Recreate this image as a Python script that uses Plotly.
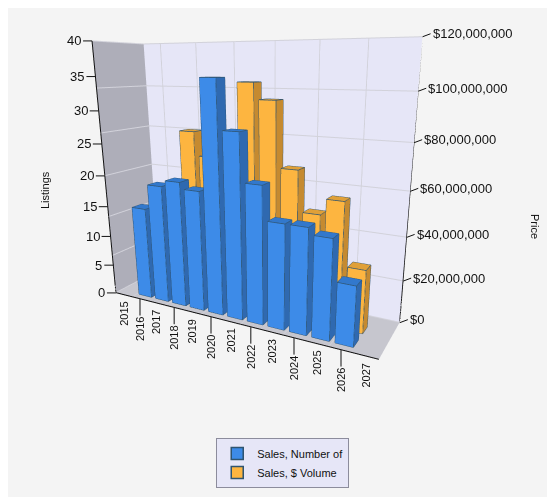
import plotly.graph_objects as go

# categories and values
years = ["2015", "2016", "2017", "2018", "2019", "2020", "2021",
         "2022", "2023", "2024", "2025", "2026", "2027"]
listings = [None, 15, 19, 20, 19, 35, 28, 21, 16, 16, 15, 9, None]
volume = [None, 40e6, 48e6, 81e6, 70e6, 81e6, 103e6, 96e6, 68e6, 50e6, 57e6, 29e6, None]

listing_ticks = [0, 5, 10, 15, 20, 25, 30, 35, 40]
price_ticks = [0, 20e6, 40e6, 60e6, 80e6, 100e6, 120e6]
price_labels = ["$0", "$20,000,000", "$40,000,000", "$60,000,000",
                "$80,000,000", "$100,000,000", "$120,000,000"]

ZMAX = 40
PRICE_SCALE = ZMAX / 120e6   # price axis shares the height of the listings axis
XMIN, XMAX = -0.5, len(years) - 0.5
YMAX = 3.0
FONT = "Liberation Sans"


def box_series(vals, y0, y1, scale, cols, name):
    # build the bars as boxes (mesh) plus their outlines
    xs, ys, zs, ii, jj, kk, fc = [], [], [], [], [], [], []
    lx, ly, lz = [], [], []
    front, side, top = cols
    for n, v in enumerate(vals):
        if v is None:
            continue
        h = v * scale
        x0, x1 = n - 0.38, n + 0.38
        c = [(x0, y0, 0), (x1, y0, 0), (x1, y1, 0), (x0, y1, 0),
             (x0, y0, h), (x1, y0, h), (x1, y1, h), (x0, y1, h)]
        b = len(xs)
        for p in c:
            xs.append(p[0]); ys.append(p[1]); zs.append(p[2])
        quads = [((0, 1, 5, 4), front), ((1, 2, 6, 5), side), ((4, 5, 6, 7), top),
                 ((2, 3, 7, 6), side), ((3, 0, 4, 7), side), ((0, 3, 2, 1), side)]
        for q, col in quads:
            ii += [b + q[0], b + q[0]]
            jj += [b + q[1], b + q[2]]
            kk += [b + q[2], b + q[3]]
            fc += [col, col]
        for e in [(0, 1), (1, 2), (4, 5), (5, 6), (6, 7), (7, 4),
                  (0, 4), (1, 5), (2, 6), (3, 7), (2, 3), (3, 0)]:
            for idx in e:
                lx.append(c[idx][0]); ly.append(c[idx][1]); lz.append(c[idx][2])
            lx.append(None); ly.append(None); lz.append(None)
    mesh = go.Mesh3d(x=xs, y=ys, z=zs, i=ii, j=jj, k=kk, facecolor=fc,
                     flatshading=True, name=name, hoverinfo="skip",
                     lighting=dict(ambient=1, diffuse=0, specular=0, roughness=1, fresnel=0))
    edges = go.Scatter3d(x=lx, y=ly, z=lz, mode="lines", hoverinfo="skip",
                         line=dict(color="#2f5470", width=1.5), showlegend=False)
    return mesh, edges


fig = go.Figure()

m1, e1 = box_series(volume, 1.45, 2.05, PRICE_SCALE, ("#fdb540", "#c58a30", "#e0a038"), "Sales, $ Volume")
m2, e2 = box_series(listings, 0.35, 0.95, 1, ("#3d8be8", "#2f69b0", "#3278cc"), "Sales, Number of")
fig.add_trace(m1)
fig.add_trace(e1)
fig.add_trace(m2)
fig.add_trace(e2)

# axis lines
fig.add_trace(go.Scatter3d(
    x=[XMIN, XMIN, None, XMIN, XMAX, None, XMAX, XMAX],
    y=[0, 0, None, 0, 0, None, YMAX, YMAX],
    z=[ZMAX, 0, None, 0, 0, None, 0, ZMAX],
    mode="lines", line=dict(color="#111111", width=2),
    hoverinfo="skip", showlegend=False))

# legend entries
fig.add_trace(go.Bar(x=[None], y=[None], name="Sales, Number of",
                     marker=dict(color="#3d8be8", line=dict(color="#2f5470", width=1.5))))
fig.add_trace(go.Bar(x=[None], y=[None], name="Sales, $ Volume",
                     marker=dict(color="#fdb540", line=dict(color="#2f5470", width=1.5))))

ann = []
for t in listing_ticks:
    ann.append(dict(x=XMIN, y=0, z=t, text=str(t), showarrow=True, arrowhead=0,
                    arrowwidth=1, arrowcolor="#111111", ax=-9, ay=0, xanchor="right",
                    font=dict(family=FONT, size=13, color="#111111")))
for t, lab in zip(price_ticks, price_labels):
    ann.append(dict(x=XMAX, y=YMAX, z=t * PRICE_SCALE, text=lab, showarrow=True, arrowhead=0,
                    arrowwidth=1, arrowcolor="#111111", ax=8, ay=-3, xanchor="left",
                    font=dict(family=FONT, size=13, color="#111111")))
for n, yr in enumerate(years):
    even = n % 2 == 1
    ann.append(dict(x=n, y=0, z=0, text=yr, textangle=-90, showarrow=True, arrowhead=0,
                    arrowwidth=1, arrowcolor="#111111" if even else "rgba(0,0,0,0)",
                    ax=0, ay=30 if even else 19,
                    font=dict(family=FONT, size=11, color="#111111")))

axis_common = dict(showticklabels=False, title=dict(text=""), showspikes=False,
                   zeroline=False, showline=False, ticks="", autorange=False)

fig.update_layout(
    width=555, height=497,
    margin=dict(l=0, r=0, t=0, b=0),
    paper_bgcolor="#f4f4f4",
    plot_bgcolor="#f4f4f4",
    xaxis=dict(visible=False),
    yaxis=dict(visible=False),
    scene=dict(
        domain=dict(x=[0.0, 0.95], y=[0.15, 1.0]),
        xaxis=dict(range=[XMIN, XMAX], tickvals=[0.5, 2.5, 4.5, 6.5, 8.5, 10.5],
                   showbackground=True, backgroundcolor="#aeaeb9",
                   gridcolor="#d2d2da", **axis_common),
        yaxis=dict(range=[0, YMAX], showgrid=False,
                   showbackground=True, backgroundcolor="#e6e6f7", **axis_common),
        zaxis=dict(range=[0, ZMAX], tickvals=[t * PRICE_SCALE for t in price_ticks],
                   showbackground=True, backgroundcolor="#c6c6ce",
                   gridcolor="#d2d2da", **axis_common),
        aspectmode="manual",
        aspectratio=dict(x=1.8, y=0.45, z=1.6),
        camera=dict(eye=dict(x=1.46, y=-2.55, z=0.65), center=dict(x=0.16, y=0, z=-0.2),
                    up=dict(x=-0.04, y=0, z=1)),
        annotations=ann,
    ),
    legend=dict(x=0.495, y=0.135, xanchor="center", yanchor="top",
                bgcolor="#e6e6f7", bordercolor="#8c8c9c", borderwidth=1,
                font=dict(family=FONT, size=11, color="#111111")),
    annotations=[
        dict(text="Listings", x=37 / 555, y=1 - 182 / 497, xref="paper", yref="paper",
             xanchor="center", yanchor="middle",
             showarrow=False, textangle=-90, font=dict(family=FONT, size=11, color="#111111")),
        dict(text="Price", x=527 / 555, y=1 - 218 / 497, xref="paper", yref="paper",
             xanchor="center", yanchor="middle",
             showarrow=False, textangle=90, font=dict(family=FONT, size=11, color="#111111")),
    ],
)

fig.write_html("out.html")
